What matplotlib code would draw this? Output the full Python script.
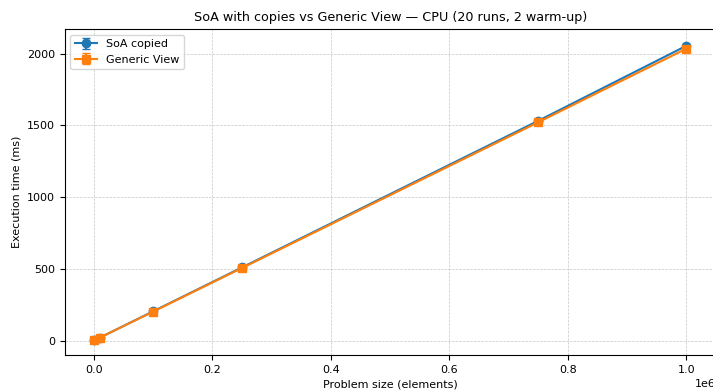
import matplotlib
matplotlib.use("Agg")
import matplotlib.pyplot as plt

sizes = [1000, 10000, 100000, 250000, 750000, 1000000]
soa_ms = [2.1, 20.5, 204, 510, 1532, 2055]
soa_err = [0.1, 0.5, 3, 6, 10, 14]
gen_ms = [2.0, 20.2, 202, 506, 1522, 2035]
gen_err = [0.1, 0.5, 3, 6, 10, 14]

plt.rcParams.update({
    'font.size': 8,
    'axes.titlesize': 9.2,
    'axes.labelsize': 8,
    'xtick.labelsize': 8,
    'ytick.labelsize': 8,
    'legend.fontsize': 8,
})

fig, ax = plt.subplots(figsize=(7.13, 3.92), dpi=100)
ax.errorbar(sizes, soa_ms, yerr=soa_err, marker='o', capsize=3, markersize=6, label='SoA copied')
ax.errorbar(sizes, gen_ms, yerr=gen_err, marker='s', capsize=3, markersize=6, label='Generic View')
ax.set_title('SoA with copies vs Generic View — CPU (20 runs, 2 warm-up)')
ax.set_xlabel('Problem size (elements)', labelpad=3)
ax.set_ylabel('Execution time (ms)')
ax.grid(True, linestyle='--', linewidth=0.5, alpha=0.7)
ax.legend(loc='upper left')
fig.subplots_adjust(left=0.091, right=1.004, top=0.926, bottom=0.094)
fig.savefig('out.png')
